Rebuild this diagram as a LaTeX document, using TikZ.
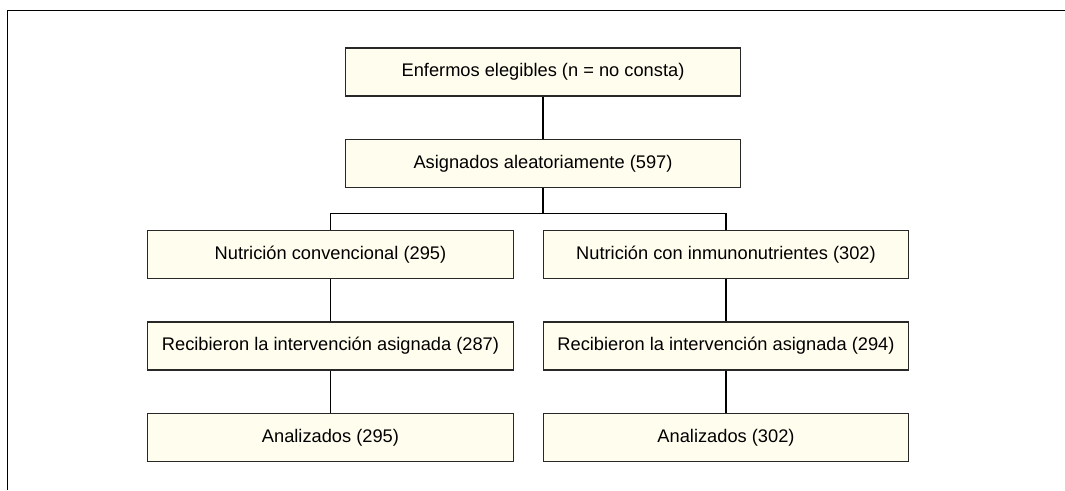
\documentclass[tikz,border=0pt]{standalone}
\usepackage{fontspec}
\setmainfont{Liberation Sans}
\usetikzlibrary{positioning}
\definecolor{FlowFill}{RGB}{255,254,238}
\definecolor{FlowLine}{RGB}{40,40,40}

\begin{document}
\begin{tikzpicture}[x=0.75pt, y=-0.75pt, node distance=31.6pt, every node/.style={font=\fontsize{13.7pt}{16pt}\selectfont,align=center}, box/.style={draw=FlowLine,line width=0.9pt,fill=FlowFill,minimum height=36pt,minimum width=296pt,inner sep=0pt}, armbox/.style={box,minimum width=274pt}, link/.style={draw=black,line width=0.8pt}]
\useasboundingbox (0,0) rectangle (1065,490);
\draw[line width=1.4pt] (1065,10.5) -- (7.5,10.5) -- (7.5,490);
\node[box] (eleg) at (543,72) {Enfermos elegibles (n = no consta)};
\node[box,below=of eleg] (asig) {Asignados aleatoriamente (597)};
\node[armbox,below=of asig,xshift=-159.4pt] (conv) {Nutrición convencional (295)};
\node[armbox,below=of asig,xshift=137.25pt] (inmu) {Nutrición con inmunonutrientes (302)};
\node[armbox,below=of conv] (recconv) {Recibieron la intervención asignada (287)};
\node[armbox,below=of inmu] (recinmu) {Recibieron la intervención asignada (294)};
\node[armbox,below=of recconv] (anconv) {Analizados (295)};
\node[armbox,below=of recinmu] (aninmu) {Analizados (302)};
\draw[link] (eleg) -- (asig);
\draw[link] (asig.south) -- ++(0,26) coordinate (split);
\draw[link] (split) -| (conv.north);
\draw[link] (split) -| (inmu.north);
\draw[link] (conv) -- (recconv);
\draw[link] (recconv) -- (anconv);
\draw[link] (inmu) -- (recinmu);
\draw[link] (recinmu) -- (aninmu);
\end{tikzpicture}
\end{document}
